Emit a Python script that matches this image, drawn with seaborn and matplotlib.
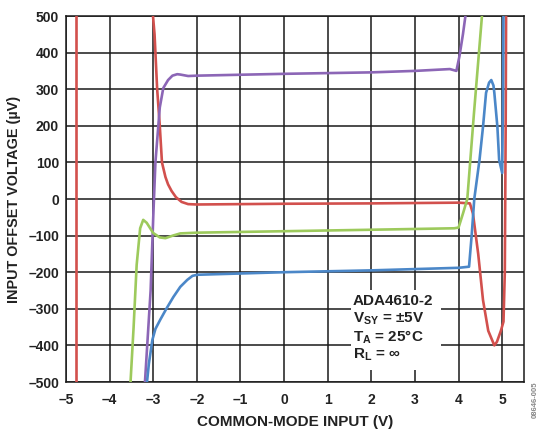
import numpy as np
import pandas as pd
import matplotlib
matplotlib.use("Agg")
import matplotlib.pyplot as plt
import seaborn as sns
from matplotlib.patches import Rectangle

# ---- data ----
red_seg1_x = [-4.77, -4.77]
red_seg1_y = [-520, 520]
red_seg2_x = [-3.02, -2.97, -2.91, -2.85, -2.80, -2.72, -2.66, -2.58, -2.48, -2.35, -2.20, -2.00,
              0.0, 2.0, 4.0, 4.26, 4.33, 4.45, 4.56, 4.68, 4.82, 4.88, 4.97, 5.03, 5.06, 5.08, 5.09]
red_seg2_y = [520, 450, 300, 200, 100, 60, 40, 22, 5, -8, -14, -15,
              -13, -12, -10, -12, -40, -150, -276, -360, -400, -390, -360, -335, -200, 200, 520]

purple_x = [-3.20, -3.14, -3.06, -3.00, -2.95, -2.85, -2.77, -2.66, -2.56, -2.45, -2.38, -2.20,
            -2.00, 0.0, 2.0, 3.0, 3.80, 3.95, 4.02, 4.10, 4.18]
purple_y = [-520, -404, -250, -50, 100, 250, 303, 325, 337, 341, 340, 336,
            337, 342, 346, 350, 355, 350, 390, 450, 520]

green_x = [-3.53, -3.45, -3.38, -3.30, -3.23, -3.15, -3.00, -2.85, -2.72, -2.55, -2.38, -2.00,
           0.0, 2.0, 3.90, 4.00, 4.10, 4.20, 4.35, 4.55]
green_y = [-520, -350, -180, -80, -57, -65, -93, -105, -107, -100, -94, -92,
           -88, -84, -80, -78, -40, 0, 230, 520]

blue_x = [-3.16, -3.10, -3.02, -2.95, -2.84, -2.70, -2.54, -2.38, -2.22, -2.10, -1.99, 0.0, 2.0,
          4.0, 4.24, 4.30, 4.36, 4.48, 4.56, 4.63, 4.70, 4.75, 4.80, 4.82, 4.89, 4.93, 5.00, 5.02, 5.03]
blue_y = [-520, -450, -385, -355, -330, -300, -268, -240, -221, -210, -207, -200, -195,
          -188, -185, -100, 0, 107, 197, 290, 318, 325, 310, 290, 197, 107, 71, 300, 520]

x_ticks = [-5, -4, -3, -2, -1, 0, 1, 2, 3, 4, 5]
y_ticks = [-500, -400, -300, -200, -100, 0, 100, 200, 300, 400, 500]
x_label = "COMMON-MODE INPUT (V)"
y_label = "INPUT OFFSET VOLTAGE (µV)"
note_lines = ["ADA4610-2", r"V$_{\mathrm{SY}}$ = ±5V", r"T$_{\mathrm{A}}$ = 25°C", r"R$_{\mathrm{L}}$ = ∞"]
code_text = "08646-005"

colors = {"red": "#d2504d", "purple": "#8c66b6", "green": "#9dca5c", "blue": "#4b87c8"}

frames = []
frames.append(pd.DataFrame({"x": red_seg1_x, "y": red_seg1_y, "curve": "red", "seg": "red1"}))
frames.append(pd.DataFrame({"x": red_seg2_x, "y": red_seg2_y, "curve": "red", "seg": "red2"}))
frames.append(pd.DataFrame({"x": purple_x, "y": purple_y, "curve": "purple", "seg": "purple"}))
frames.append(pd.DataFrame({"x": green_x, "y": green_y, "curve": "green", "seg": "green"}))
frames.append(pd.DataFrame({"x": blue_x, "y": blue_y, "curve": "blue", "seg": "blue"}))
df = pd.concat(frames, ignore_index=True)

# ---- styling ----
sns.set_style("white")
plt.rcParams["font.family"] = ["Liberation Sans", "DejaVu Sans"]
plt.rcParams["font.weight"] = "bold"
plt.rcParams["mathtext.fontset"] = "custom"
plt.rcParams["mathtext.rm"] = "Liberation Sans:bold"
plt.rcParams["mathtext.it"] = "Liberation Sans:bold"
plt.rcParams["mathtext.bf"] = "Liberation Sans:bold"
plt.rcParams["axes.unicode_minus"] = True

fig = plt.figure(figsize=(5.42, 4.29), dpi=100)
ax = fig.add_axes([66 / 542, 1 - 382 / 429, (524 - 66) / 542, (382 - 16) / 429])

for name in ["red", "purple", "green", "blue"]:
    sub = df[df["curve"] == name]
    sns.lineplot(data=sub, x="x", y="y", units="seg", estimator=None, sort=False,
                 color=colors[name], lw=1.9, ax=ax, legend=False, zorder=3)

ax.set_xlim(-5, 5.5)
ax.set_ylim(-500, 500)
ax.set_xticks(x_ticks)
ax.set_yticks(y_ticks)
ax.set_xticklabels([f"{t}".replace("-", "–") for t in x_ticks])
ax.set_yticklabels([f"{t}".replace("-", "–") for t in y_ticks])
ax.grid(True, color="#1a1a1a", lw=1.1, zorder=1)
ax.set_axisbelow(True)
for s in ax.spines.values():
    s.set_color("#1a1a1a")
    s.set_linewidth(1.1)
ax.tick_params(axis="x", length=0, pad=8, labelsize=10, colors="#222222")
ax.tick_params(axis="y", length=0, pad=5, labelsize=10, colors="#222222")
for lab in ax.get_xticklabels() + ax.get_yticklabels():
    lab.set_fontweight("bold")

ax.set_xlabel(x_label, fontsize=11, fontweight="bold", color="#222222", labelpad=6)
ax.set_ylabel(y_label, fontsize=10.4, fontweight="bold", color="#222222", labelpad=5)

# white box behind the note
ax.add_patch(Rectangle((1.53, -467), 2.07, 218, facecolor="white", edgecolor="none", zorder=2))
for i, line in enumerate(note_lines):
    ax.text(1.58, -280 - i * 48.5, line, fontsize=11, fontweight="bold", color="#222222",
            va="center", ha="left", zorder=4)

fig.text(535 / 542, 1 - 400 / 429, code_text, rotation=90, fontsize=5.5, color="#888888",
         ha="center", va="center")

fig.savefig("out.png", dpi=100)
